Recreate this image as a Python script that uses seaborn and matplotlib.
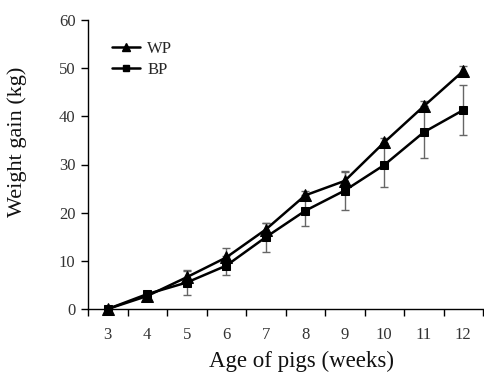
import matplotlib
matplotlib.use("Agg")
import matplotlib.pyplot as plt
import seaborn as sns
import pandas as pd
import numpy as np
from matplotlib.ticker import FixedLocator
from matplotlib.lines import Line2D

weeks = [3, 4, 5, 6, 7, 8, 9, 10, 11, 12]
wp_mean = [0.0, 2.7, 6.6, 10.7, 16.5, 23.6, 26.6, 34.6, 42.1, 49.4]
wp_err = [0.3, 0.4, 1.2, 1.9, 1.4, 0.8, 1.8, 1.0, 1.0, 1.1]
bp_mean = [0.0, 3.1, 5.5, 9.0, 14.9, 20.4, 24.6, 29.9, 36.7, 41.3]
bp_err = [0.2, 0.4, 2.5, 2.0, 3.0, 3.2, 4.1, 4.6, 5.4, 5.2]

sns.set_theme(style="ticks")
plt.rcParams['font.family'] = ['Liberation Serif', 'DejaVu Serif']

df_wp = pd.DataFrame({"week": weeks, "gain": wp_mean})
df_bp = pd.DataFrame({"week": weeks, "gain": bp_mean})

fig = plt.figure(figsize=(4.84, 3.76), dpi=100)
ax = fig.add_axes([88/484, 1-309/376, 395/484, 289/376])

ax.errorbar(weeks, wp_mean, yerr=wp_err, fmt='none', ecolor='#666666',
            elinewidth=1.0, capsize=2.6, capthick=1.0, clip_on=False, zorder=2)
ax.errorbar(weeks, bp_mean, yerr=bp_err, fmt='none', ecolor='#666666',
            elinewidth=1.0, capsize=2.6, capthick=1.0, clip_on=False, zorder=2)

sns.lineplot(data=df_wp, x="week", y="gain", marker="^", color="black",
             markersize=8.5, linewidth=1.8, markeredgecolor='black',
             ax=ax, clip_on=False, zorder=3, legend=False)
sns.lineplot(data=df_bp, x="week", y="gain", marker="s", color="black",
             markersize=5.5, linewidth=1.8, markeredgecolor='black',
             ax=ax, clip_on=False, zorder=3, legend=False)

ax.set_xlim(2.5, 12.5)
ax.set_ylim(0, 60)
ax.set_yticks(np.arange(0, 61, 10))
ax.set_xticks(weeks)
ax.set_xticklabels([str(w) for w in weeks])
ax.xaxis.set_minor_locator(FixedLocator(np.arange(2.5, 12.6, 1.0)))
ax.tick_params(axis='x', which='major', length=0, pad=13, labelsize=12, labelcolor='#333333')
ax.tick_params(axis='x', which='minor', length=5, width=1.0, color='black', direction='out')
ax.tick_params(axis='y', which='major', length=5, width=1.0, color='black', direction='out',
               labelsize=12, labelcolor='#333333', pad=4)

for s in ['top', 'right']:
    ax.spines[s].set_visible(False)
for s in ['left', 'bottom']:
    ax.spines[s].set_color('black')
    ax.spines[s].set_linewidth(1.0)

ax.set_xlabel("Age of pigs (weeks)", fontsize=16.5, color='#111111')
ax.set_ylabel("Weight gain (kg)", fontsize=16, color='#111111')
ax.xaxis.set_label_coords(0.54, -0.145)
ax.yaxis.set_label_coords(-0.155, 0.58)

handles = [
    Line2D([], [], color='black', lw=1.8, marker='^', markersize=6, markeredgecolor='black'),
    Line2D([], [], color='black', lw=1.8, marker='s', markersize=4.5, markeredgecolor='black'),
]
ax.legend(handles, ["WP", "BP"], loc='upper left', bbox_to_anchor=(0.045, 0.95),
          frameon=False, fontsize=12, handlelength=1.65, handletextpad=0.45,
          labelspacing=0.3, borderaxespad=0)

fig.savefig("out.png", dpi=100)
